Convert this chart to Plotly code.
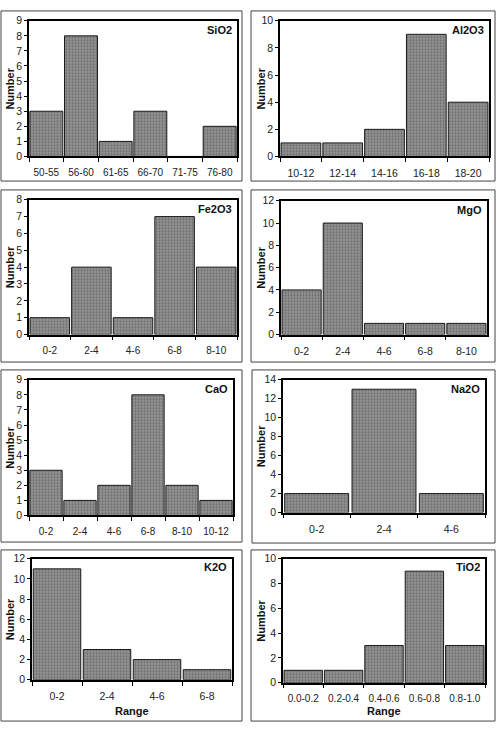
import plotly.graph_objects as go

W, H = 497, 731

# ---- data ----
sio2_cats = ["50-55", "56-60", "61-65", "66-70", "71-75", "76-80"]
sio2_vals = [3, 8, 1, 3, 0, 2]
al2o3_cats = ["10-12", "12-14", "14-16", "16-18", "18-20"]
al2o3_vals = [1, 1, 2, 9, 4]
fe2o3_cats = ["0-2", "2-4", "4-6", "6-8", "8-10"]
fe2o3_vals = [1, 4, 1, 7, 4]
mgo_cats = ["0-2", "2-4", "4-6", "6-8", "8-10"]
mgo_vals = [4, 10, 1, 1, 1]
cao_cats = ["0-2", "2-4", "4-6", "6-8", "8-10", "10-12"]
cao_vals = [3, 1, 2, 8, 2, 1]
na2o_cats = ["0-2", "2-4", "4-6"]
na2o_vals = [2, 13, 2]
k2o_cats = ["0-2", "2-4", "4-6", "6-8"]
k2o_vals = [11, 3, 2, 1]
tio2_cats = ["0.0-0.2", "0.2-0.4", "0.4-0.6", "0.6-0.8", "0.8-1.0"]
tio2_vals = [1, 1, 3, 9, 3]

# panel specs: name, cats, vals, ymax, dtick, plot px box (x0,x1,y0,y1), outer box, xtitle, xfont
panels = [
    ("SiO2", sio2_cats, sio2_vals, 9, 1, (29, 237, 15, 153), (1, 242, 5, 178), None, 10),
    ("Al2O3", al2o3_cats, al2o3_vals, 10, 2, (280, 489, 15, 153), (251, 495, 5, 178), None, 10.5),
    ("Fe2O3", fe2o3_cats, fe2o3_vals, 8, 1, (29, 237, 197, 334), (1, 242, 187, 362), None, 10),
    ("MgO", mgo_cats, mgo_vals, 12, 2, (281, 487, 198, 334), (251, 495, 187, 362), None, 10.5),
    ("CaO", cao_cats, cao_vals, 9, 1, (29, 233, 380, 518), (1, 242, 370, 545), None, 10),
    ("Na2O", na2o_cats, na2o_vals, 14, 2, (283, 485, 380, 515), (252, 495, 370, 546), None, 10.5),
    ("K2O", k2o_cats, k2o_vals, 12, 2, (32, 232, 562, 685), (1, 242, 553, 727), "Range", 10.5),
    ("TiO2", tio2_cats, tio2_vals, 10, 2, (283, 485, 562, 688), (251, 495, 553, 727), "Range", 10),
]

FONT = "Liberation Sans, Arial, sans-serif"

fig = go.Figure()
layout = dict(
    width=W, height=H, margin=dict(l=0, r=0, t=0, b=0),
    paper_bgcolor="white", plot_bgcolor="white",
    showlegend=False, bargap=0.05,
    font=dict(family=FONT, size=11, color="#222"),
)
annotations = []
shapes = []

def px_x(v):
    return v / W

def px_y(v):
    return 1 - v / H

for i, (name, cats, vals, ymax, dtick, pbox, obox, xtitle, xfs) in enumerate(panels):
    n = i + 1
    xa = "x" if n == 1 else f"x{n}"
    ya = "y" if n == 1 else f"y{n}"
    fig.add_trace(go.Bar(
        x=cats, y=vals, xaxis=xa, yaxis=ya,
        marker=dict(
            color="#888888",
            line=dict(color="#1a1a1a", width=1),
            pattern=dict(shape=".", fgcolor="#6a6a6a", bgcolor="#929292",
                         size=3, solidity=0.35, fillmode="replace"),
        ),
        hoverinfo="x+y",
    ))
    x0, x1, y0, y1 = pbox
    layout["xaxis" if n == 1 else f"xaxis{n}"] = dict(
        domain=[px_x(x0), px_x(x1)], anchor=ya,
        type="category", tickson="boundaries", ticks="outside", ticklen=4,
        tickangle=0,
        tickcolor="black", showline=True, linecolor="black", linewidth=1.5,
        mirror=True, showgrid=False, zeroline=False,
        tickfont=dict(size=xfs, color="#222"), ticklabelstandoff=6,
        fixedrange=True,
    )
    layout["yaxis" if n == 1 else f"yaxis{n}"] = dict(
        domain=[px_y(y1), px_y(y0)], anchor=xa,
        range=[0, ymax], dtick=dtick, tick0=0,
        ticks="outside", ticklen=3, tickcolor="black",
        showline=True, linecolor="black", linewidth=1.5, mirror=True,
        showgrid=False, zeroline=False,
        tickfont=dict(size=10.5, color="#222"),
        fixedrange=True,
    )
    # panel label
    annotations.append(dict(
        text=f"<b>{name}</b>", xref=f"{xa} domain", yref=f"{ya} domain",
        x=0.985, y=0.93, xanchor="right", yanchor="middle", showarrow=False,
        font=dict(size=11, color="#111", family=FONT),
    ))
    # y title
    tx = 10 if x0 < 100 else 261
    annotations.append(dict(
        text="<b>Number</b>", xref="paper", yref="paper",
        x=px_x(tx), y=px_y((y0 + y1) / 2), xanchor="center", yanchor="middle",
        textangle=-90, showarrow=False, font=dict(size=11, color="#111", family=FONT),
    ))
    if xtitle:
        annotations.append(dict(
            text=f"<b>{xtitle}</b>", xref="paper", yref="paper",
            x=px_x((x0 + x1) / 2), y=px_y(717), xanchor="center", yanchor="middle",
            showarrow=False, font=dict(size=11, color="#111", family=FONT),
        ))
    ox0, ox1, oy0, oy1 = obox
    shapes.append(dict(
        type="rect", xref="paper", yref="paper",
        x0=px_x(ox0), x1=px_x(ox1), y0=px_y(oy1), y1=px_y(oy0),
        line=dict(color="#444", width=1), fillcolor="rgba(0,0,0,0)", layer="below",
    ))

layout["annotations"] = annotations
layout["shapes"] = shapes
fig.update_layout(**layout)
fig.write_html("out.html")
